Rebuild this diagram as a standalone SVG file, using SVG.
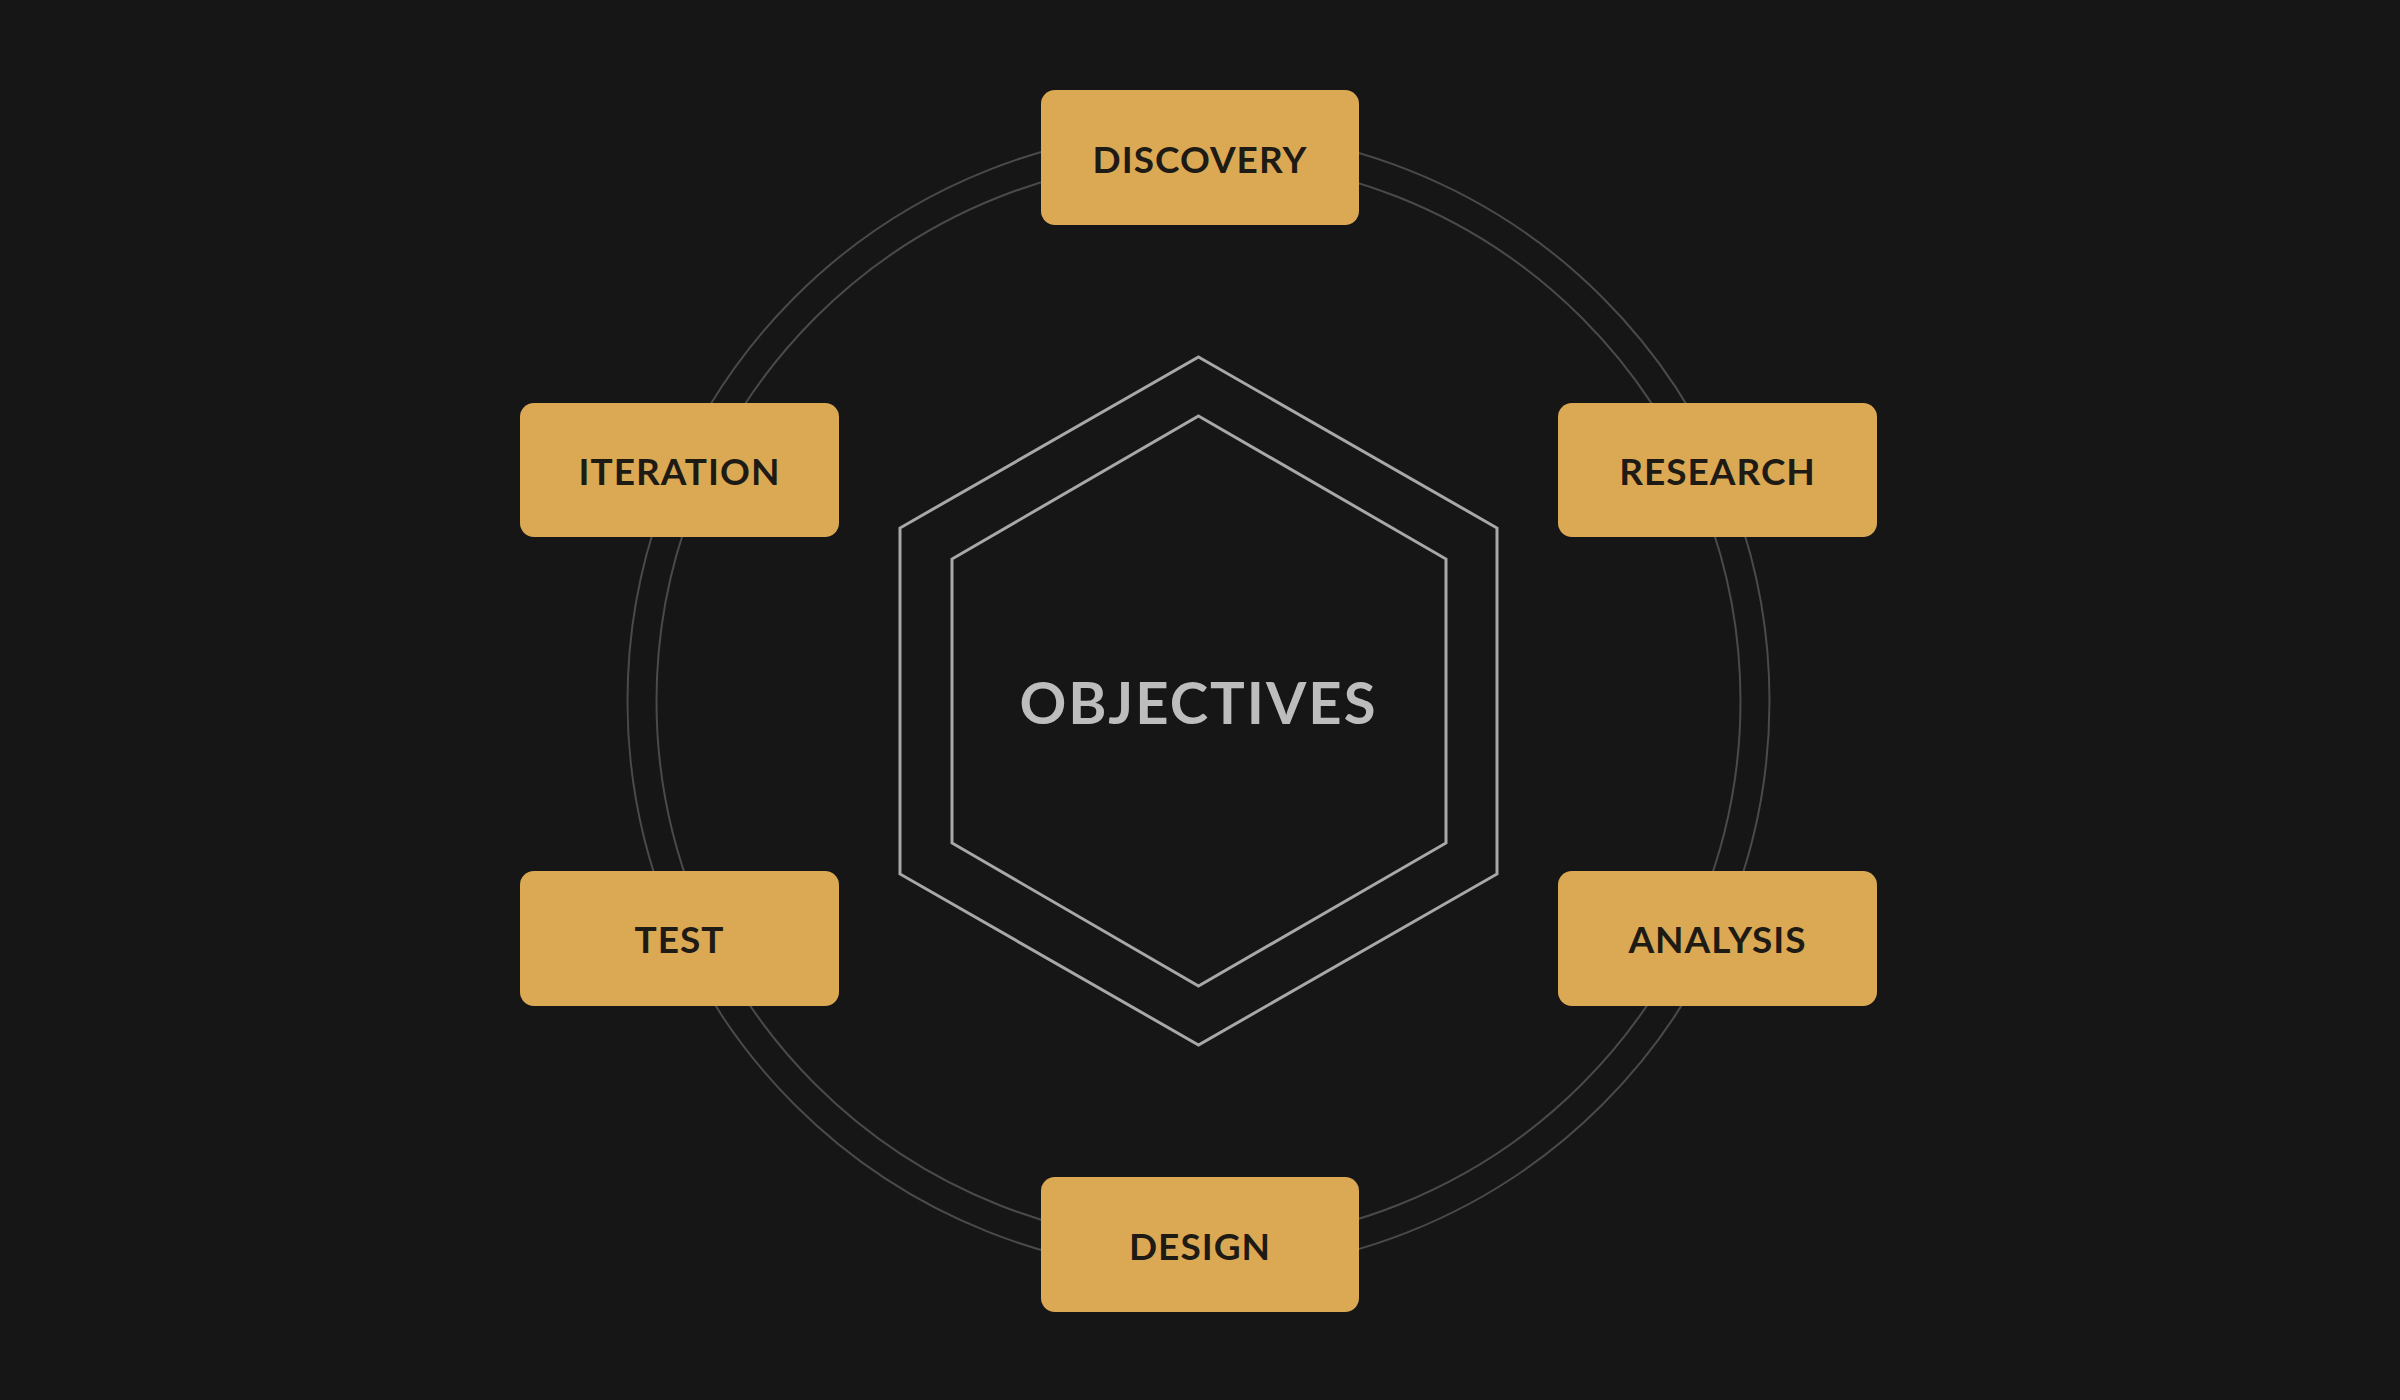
<svg xmlns="http://www.w3.org/2000/svg" width="2400" height="1400" viewBox="0 0 2400 1400">
<style>
.box{fill:#dba954}
.lbl{font-family:Lato,"Noto Sans",sans-serif;font-weight:700;font-size:37px;fill:#1e1a14;text-anchor:middle;dominant-baseline:central;letter-spacing:1px}
.ring{fill:none;stroke:#4a4a4a;stroke-width:2}
.hex{fill:none;stroke:#a8a8a8;stroke-width:3}
</style>
<rect width="2400" height="1400" fill="#161616"/>
<g id="connectors">
<circle class="ring" cx="1198.5" cy="701" r="571"/>
<circle class="ring" cx="1198.5" cy="701" r="542"/>
</g>
<g id="objectives">
<polygon class="hex" points="1198.5,357 1497,528 1497,874 1198.5,1045 900,874 900,528"/>
<polygon class="hex" points="1198.5,416 1446,559 1446,843 1198.5,986 952,843 952,559"/>
<text x="1198.5" y="701" font-family="Lato,'Noto Sans',sans-serif" font-weight="700" font-size="58" fill="#bdbdbd" text-anchor="middle" dominant-baseline="central" letter-spacing="2">OBJECTIVES</text>
</g>
<g id="discovery"><rect class="box" x="1041" y="90" width="318" height="135" rx="14"/><text class="lbl" x="1200" y="158">DISCOVERY</text></g>
<g id="research"><rect class="box" x="1558" y="403" width="319" height="134" rx="14"/><text class="lbl" x="1717.5" y="470">RESEARCH</text></g>
<g id="analysis"><rect class="box" x="1558" y="871" width="319" height="135" rx="14"/><text class="lbl" x="1717.5" y="938">ANALYSIS</text></g>
<g id="design"><rect class="box" x="1041" y="1177" width="318" height="135" rx="14"/><text class="lbl" x="1200" y="1245">DESIGN</text></g>
<g id="test"><rect class="box" x="520" y="871" width="319" height="135" rx="14"/><text class="lbl" x="679.5" y="938">TEST</text></g>
<g id="iteration"><rect class="box" x="520" y="403" width="319" height="134" rx="14"/><text class="lbl" x="679.5" y="470">ITERATION</text></g>
</svg>
